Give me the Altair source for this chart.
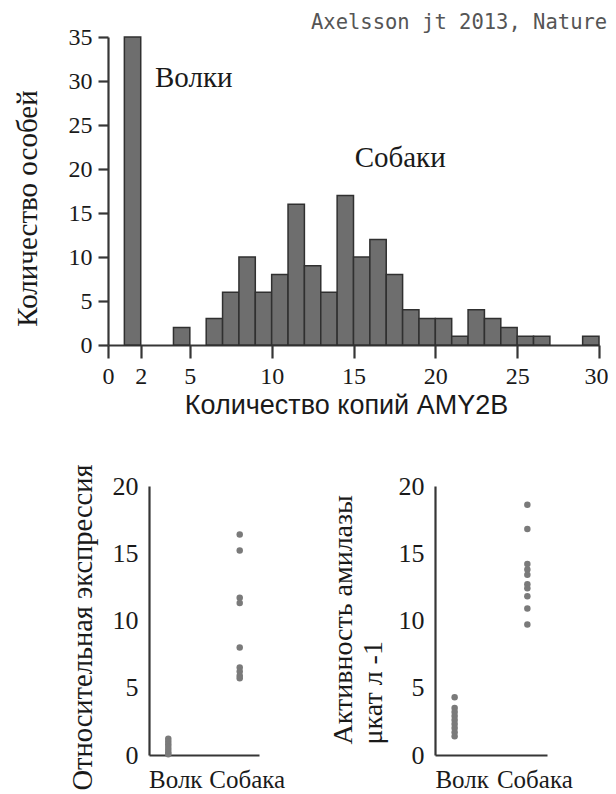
import altair as alt
import pandas as pd

# ---------------- data ----------------
# histogram: number of individuals per AMY2B copy-number bin [start, start+1)
bin_start = list(range(30))
counts = [0, 35, 0, 0, 2, 0, 3, 6, 10, 6, 8, 16, 9, 6, 17, 10, 12, 8, 4, 3,
          3, 1, 4, 3, 2, 1, 1, 0, 0, 1]
x_ticks = [0, 2, 5, 10, 15, 20, 25, 30]
y_ticks = [0, 5, 10, 15, 20, 25, 30, 35]

group_labels = ["Волки", "Собаки"]
group_label_x = [2.87, 15.07]
group_label_y = [29.3, 20.2]

citation = ["Axelsson jt 2013, Nature"]
citation_x = [30.5]
citation_y = [36.6]

categories = ["Волк", "Собака"]
bottom_ticks = [0, 5, 10, 15, 20]
expr_wolf = [1.2, 1.0, 0.8, 0.6, 0.4, 0.2, 0.05]
expr_dog = [16.4, 15.2, 11.7, 11.3, 8.0, 6.5, 6.2, 5.9, 5.7]
amyl_wolf = [4.3, 3.5, 3.2, 2.9, 2.6, 2.3, 2.0, 1.7, 1.4]
amyl_dog = [18.6, 16.8, 14.2, 13.8, 13.4, 12.7, 12.4, 11.8, 10.9, 9.7]

# ---------------- layout / style ----------------
SERIF = "Liberation Serif"
SANS = "Liberation Sans"
MONO = "DejaVu Sans Mono"
AX = "#363636"
TXT = "#1a1a1a"

W, H = 600, 786
TOP_X = [100, 591]
TOP_Y = [337, 29]
BL_X = [141, 251]
BR_X = [427, 539]
BOT_Y = [747, 478]

axis_common = dict(grid=False, domainColor=AX, domainWidth=2.2, tickColor=AX,
                   tickWidth=2.2, labelColor=TXT, labelFont=SERIF,
                   titleColor=TXT, titleFontWeight="normal",
                   labelFlush=False, labelOverlap=False)

hist_df = pd.DataFrame({"start": bin_start,
                        "end": [b + 1 for b in bin_start],
                        "count": counts})
hist_df["base"] = 0
hist_df = hist_df[hist_df["count"] > 0]

x_top = alt.Scale(domain=[0, 30], range=TOP_X, nice=False, zero=False)
y_top = alt.Scale(domain=[0, 35], range=TOP_Y, nice=False)

x_axis_top = alt.Axis(orient="bottom", offset=-(H - TOP_Y[0]), values=x_ticks,
                      tickSize=13, labelPadding=6, labelFontSize=24,
                      labelOffset={"condition": {"test": "datum.value == 30",
                                                 "value": -3}, "value": 0},
                      title="Количество копий AMY2B", titleFont=SANS,
                      titleFontSize=27, titleX=338, titleY=68,
                      titleAlign="center", titleBaseline="alphabetic",
                      **axis_common)
y_axis_top = alt.Axis(orient="left", offset=-TOP_X[0], values=y_ticks,
                      tickSize=10, labelPadding=6, labelFontSize=24,
                      title="Количество особей", titleFont=SERIF,
                      titleFontSize=29, titleAngle=270, titleX=-81, titleY=200,
                      titleAlign="center", titleBaseline="middle",
                      **axis_common)

bars = alt.Chart(hist_df).mark_rect(fill="#6e6e6e", stroke="#303030",
                                    strokeWidth=1.5).encode(
    x=alt.X("start:Q", scale=x_top, axis=x_axis_top),
    x2="end:Q",
    y=alt.Y("count:Q", scale=y_top, axis=y_axis_top),
    y2="base:Q",
)

lab_df = pd.DataFrame({"start": group_label_x, "count": group_label_y,
                       "label": group_labels})
labels = alt.Chart(lab_df).mark_text(font=SERIF, fontSize=29, align="left",
                                     baseline="alphabetic", color=TXT).encode(
    x=alt.X("start:Q", scale=x_top, axis=x_axis_top),
    y=alt.Y("count:Q", scale=y_top, axis=y_axis_top),
    text="label:N",
)

cite_df = pd.DataFrame({"start": citation_x, "count": citation_y,
                        "label": citation})
cite = alt.Chart(cite_df).mark_text(font=MONO, fontSize=20.5, align="right",
                                    baseline="middle", color="#555555").encode(
    x=alt.X("start:Q", scale=x_top, axis=x_axis_top),
    y=alt.Y("count:Q", scale=y_top, axis=y_axis_top),
    text="label:N",
)

top = alt.layer(bars, labels, cite)


def dot_panel(wolf, dog, xrange, title, title_size, title_x, title_y, align,
              baseline):
    df = pd.DataFrame({
        "group": [categories[0]] * len(wolf) + [categories[1]] * len(dog),
        "value": list(wolf) + list(dog),
    })
    xs = alt.Scale(type="point", domain=categories, range=xrange, padding=0.27)
    ys = alt.Scale(domain=[0, 20], range=BOT_Y, nice=False)
    xa = alt.Axis(orient="bottom", offset=-(H - BOT_Y[0]), ticks=False,
                  tickSize=0, labelPadding=12, labelFontSize=25, labelAngle=0,
                  labelOffset=7, title=None, **axis_common)
    ya = alt.Axis(orient="left", offset=-xrange[0], values=bottom_ticks,
                  ticks=False, tickSize=0, labelPadding=11, labelFontSize=26,
                  title=title, titleFont=SERIF, titleFontSize=title_size,
                  titleAngle=270, titleX=title_x, titleY=title_y,
                  titleAlign=align, titleBaseline=baseline,
                  titleLineHeight=30, **axis_common)
    return alt.Chart(df).mark_circle(size=42, color="#7a7a7a", opacity=1).encode(
        x=alt.X("group:N", scale=xs, axis=xa, sort=categories),
        y=alt.Y("value:Q", scale=ys, axis=ya),
    )


bl = dot_panel(expr_wolf, expr_dog, BL_X, "Относительная экспрессия", 28.5,
               -67, 619, "center", "middle")
br = dot_panel(amyl_wolf, amyl_dog, BR_X, ["Активность амилазы", "μкат л -1"],
               28, -106, 736, "left", "top")

chart = alt.layer(top, bl, br).resolve_scale(
    x="independent", y="independent"
).resolve_axis(
    x="independent", y="independent"
).properties(
    width=W, height=H,
    autosize=alt.AutoSizeParams(type="none"),
    padding=0,
).configure_view(
    stroke=None
)

chart.save("out.html", embed_options={"renderer": "svg", "actions": False})
